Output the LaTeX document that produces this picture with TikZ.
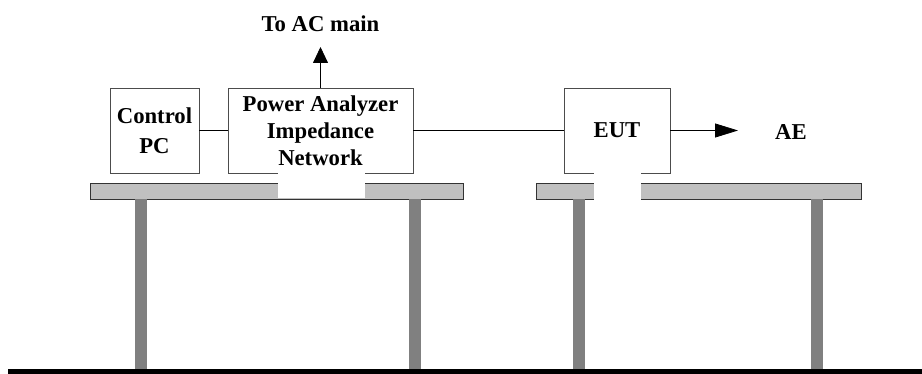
\documentclass[tikz,border=0pt]{standalone}
\usepackage{fontspec}
\setmainfont{Liberation Serif}
\usetikzlibrary{arrows.meta}
\definecolor{tablegray}{HTML}{C0C0C0}
\definecolor{leggray}{HTML}{808080}

\begin{document}
\begin{tikzpicture}[x=1pt, y=-1pt,
  box/.style={draw=black!70, line width=0.9pt, minimum height=85pt, inner sep=0pt, align=center, font=\bfseries\fontsize{22.7}{27}\selectfont},
  label/.style={inner sep=0pt, font=\bfseries\fontsize{22.7}{27}\selectfont},
  tabletop/.style={draw=black!80, line width=0.8pt, fill=tablegray, minimum height=16pt, inner sep=0pt},
  gap/.style={fill=white, inner sep=0pt},
  wire/.style={draw=black, line width=0.8pt},
  arr/.style={wire, -{Triangle[length=16pt, width=15pt]}}]
\useasboundingbox (0,0) rectangle (922,374);

% tables and floor
\node[tabletop, minimum width=373pt] (tableA) at (276.5,191) {};
\node[tabletop, minimum width=325pt] (tableB) at (698.5,191) {};

\foreach \x in {141, 414.5, 578.5, 816.5}
	\fill[leggray] (\x-6,199.5) rectangle (\x+6,369);

\fill[black] (8,369) rectangle (922,374);

% equipment
\node[box, minimum width=89pt] (pc) at (154.5,130.5) {Control\\[3pt]PC};
\node[box, minimum width=185pt] (pa) at (320.5,130.5) {Power Analyzer\\Impedance\\Network};
\node[box, minimum width=106pt] (eut) at (617,130.5) {EUT};

\node[label] (acmain) at (320.5,24) {To AC main};
\node[label] (ae) at (791,132) {AE};
\coordinate (acin) at (320.5,47);
\coordinate (aein) at (738,130.5);

\draw[wire] (pc) -- (pa);
\draw[wire] (pa) -- (eut);
\draw[arr] (pa.north) -- (acin);
\draw[wire, -{Triangle[length=23pt, width=14pt]}] (eut.east) -- (aein);

% cut-outs
\node[gap, minimum width=87pt, minimum height=26pt] (gapA) at (321.5,185) {};
\node[gap, minimum width=47pt, minimum height=29pt] (gapB) at (617.5,186.5) {};

\end{tikzpicture}
\end{document}
